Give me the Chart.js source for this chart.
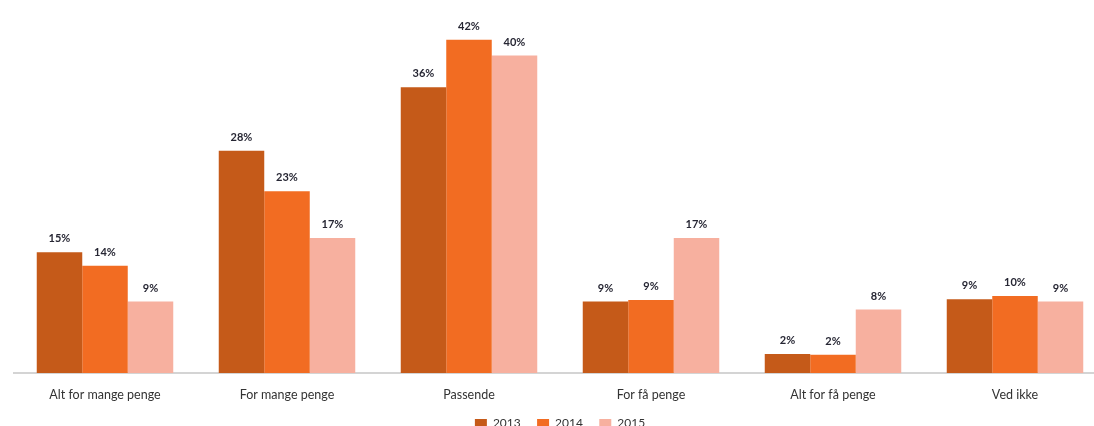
<!DOCTYPE html>
<html>
<head>
<meta charset="utf-8">
<script src="https://cdn.jsdelivr.net/npm/chart.js@4"></script>
<style>
  html, body { margin: 0; padding: 0; background: #fff; overflow: hidden; }
  #wrap { width: 1094px; height: 426px; overflow: hidden; position: relative; }
  #box { width: 1120px; height: 439px; position: absolute; left: 0; top: 0; }
</style>
</head>
<body>
<div id="wrap"><div id="box"><canvas id="myChart"></canvas></div></div>
<script>
const categories = ['Alt for mange penge', 'For mange penge', 'Passende', 'For få penge', 'Alt for få penge', 'Ved ikke'];
const series2013 = [15.2, 28, 36, 9.0, 2.4, 9.3];
const series2014 = [13.5, 22.9, 42, 9.2, 2.3, 9.7];
const series2015 = [9.0, 17.0, 40, 17.0, 8.0, 9.0];
const yearLabels = ['2013', '2014', '2015'];

Chart.defaults.font.family = 'Lato, "Open Sans", sans-serif';

// draws the % labels above each bar
const valueLabels = {
  id: 'valueLabels',
  afterDatasetsDraw(chart) {
    const c = chart.ctx;
    c.save();
    c.font = 'bold 11px Lato, sans-serif';
    c.fillStyle = '#262633';
    c.textAlign = 'center';
    c.textBaseline = 'bottom';
    chart.data.datasets.forEach((ds, i) => {
      chart.getDatasetMeta(i).data.forEach((bar, j) => {
        c.fillText(Math.round(ds.data[j]) + '%', bar.x, bar.y - 8);
      });
    });
    c.restore();
  }
};

const ctx = document.getElementById('myChart');
new Chart(ctx, {
  type: 'bar',
  data: {
    labels: categories,
    datasets: [{
      label: yearLabels[0],
      data: series2013,
      backgroundColor: '#C55A19'
    }, {
      label: yearLabels[1],
      data: series2014,
      backgroundColor: '#F26C22'
    }, {
      label: yearLabels[2],
      data: series2015,
      backgroundColor: '#F7B09F'
    }]
  },
  options: {
    responsive: true,
    maintainAspectRatio: false,
    animation: false,
    layout: { padding: { left: 14, right: 14, top: 0, bottom: 0 } },
    datasets: {
      bar: { barPercentage: 1, categoryPercentage: 0.75 }
    },
    plugins: {
      legend: {
        position: 'bottom',
        labels: {
          boxWidth: 12,
          boxHeight: 8,
          color: '#333',
          font: { size: 12 },
          padding: 1,
          // small vertical padding, so widen the gaps with trailing spaces
          generateLabels(chart) {
            const items = Chart.defaults.plugins.legend.labels.generateLabels(chart);
            items.forEach((it, i) => {
              if (i < items.length - 1) it.text = it.text + '     ';
            });
            return items;
          }
        }
      },
      tooltip: { enabled: false }
    },
    scales: {
      x: {
        grid: { display: false, drawTicks: false },
        border: { color: '#d4d4d4', width: 2 },
        ticks: { color: '#333', font: { size: 12.5 }, padding: 14 }
      },
      y: {
        display: false,
        min: 0,
        max: 47
      }
    }
  },
  plugins: [valueLabels]
});
</script>
</body>
</html>
